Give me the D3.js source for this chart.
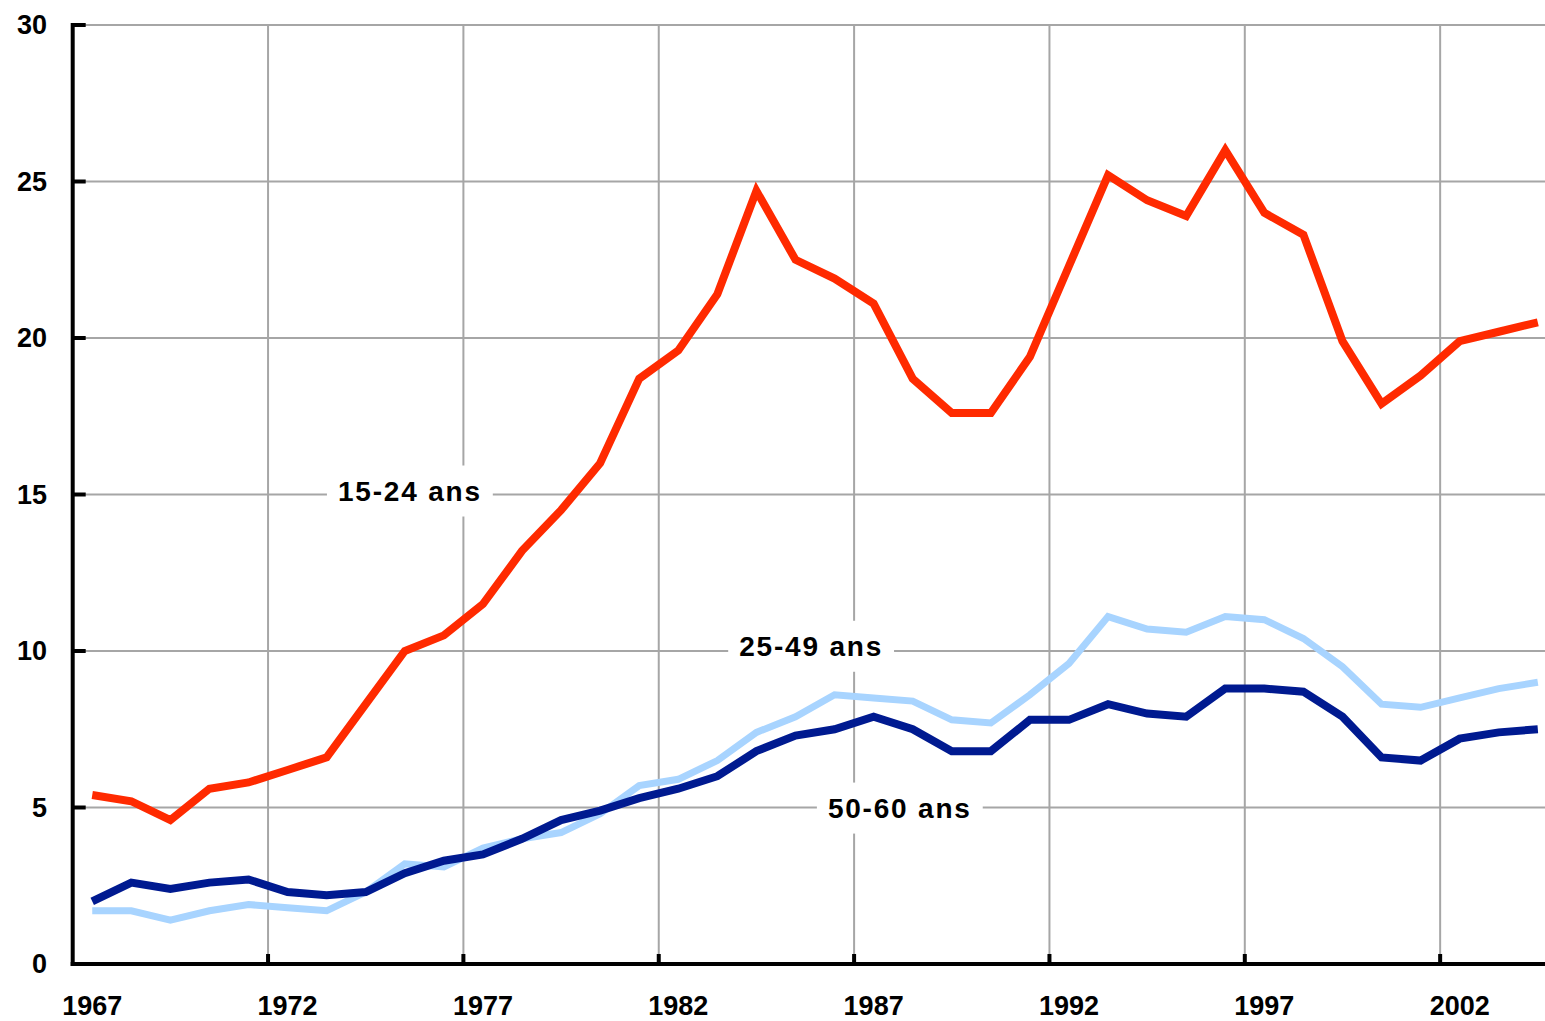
<!DOCTYPE html>
<html lang="en">
<head>
<meta charset="utf-8">
<style>
  body { margin: 0; background: #fff; }
  svg text { font-family: "Liberation Sans", Arial, sans-serif; font-weight: bold; }
</style>
</head>
<body>
<div id="chart"></div>
<script src="https://d3js.org/d3.v7.min.js"></script>
<script>
var years = d3.range(1967, 2005);

var jeunes = [5.4, 5.2, 4.6, 5.6, 5.8, 6.2, 6.6, 8.3, 10.0, 10.5,
  11.5, 13.2, 14.5, 16.0, 18.7, 19.6, 21.4, 24.7, 22.5, 21.9,
  21.1, 18.7, 17.6, 17.6, 19.4, 22.3, 25.2, 24.4, 23.9, 26.0,
  24.0, 23.3, 19.9, 17.9, 18.8, 19.9, 20.2, 20.5];

var adultes = [1.7, 1.7, 1.4, 1.7, 1.9, 1.8, 1.7, 2.3, 3.2, 3.1,
  3.7, 4.0, 4.2, 4.8, 5.7, 5.9, 6.5, 7.4, 7.9, 8.6,
  8.5, 8.4, 7.8, 7.7, 8.6, 9.6, 11.1, 10.7, 10.6, 11.1,
  11.0, 10.4, 9.5, 8.3, 8.2, 8.5, 8.8, 9.0];

var seniors = [2.0, 2.6, 2.4, 2.6, 2.7, 2.3, 2.2, 2.3, 2.9, 3.3,
  3.5, 4.0, 4.6, 4.9, 5.3, 5.6, 6.0, 6.8, 7.3, 7.5,
  7.9, 7.5, 6.8, 6.8, 7.8, 7.8, 8.3, 8.0, 7.9, 8.8,
  8.8, 8.7, 7.9, 6.6, 6.5, 7.2, 7.4, 7.5];

var yTicks = [0, 5, 10, 15, 20, 25, 30];
var xTickYears = [1967, 1972, 1977, 1982, 1987, 1992, 1997, 2002];

// label positions given in data space
var labels = [
  { text: "15-24 ans", year: 1975.13, value: 15.13 },
  { text: "25-49 ans", year: 1985.4, value: 10.17 },
  { text: "50-60 ans", year: 1987.67, value: 5.0 }
];

var width = 1545, height = 1021;
var plotLeft = 72.7, plotTop = 25, plotBottom = 964;
var yearW = 39.07;

var svg = d3.select("#chart").append("svg")
  .attr("width", width).attr("height", height);

// category axis: each year is a band, points at band centres
var x = d3.scaleLinear().domain([1966.5, 1967.5]).range([plotLeft, plotLeft + yearW]);
var y = d3.scaleLinear().domain([0, 30]).range([plotBottom, plotTop]);

var grid = svg.append("g");
grid.selectAll(".hg").data(yTicks.filter(function(d) { return d > 0; }))
  .enter().append("line")
  .attr("x1", plotLeft).attr("x2", width)
  .attr("y1", function(d) { return y(d); }).attr("y2", function(d) { return y(d); })
  .attr("stroke", "#a6a6a6").attr("stroke-width", 2);

grid.selectAll(".vg").data(xTickYears.slice(1))
  .enter().append("line")
  .attr("x1", function(d) { return x(d - 0.5); }).attr("x2", function(d) { return x(d - 0.5); })
  .attr("y1", plotTop).attr("y2", plotBottom)
  .attr("stroke", "#a6a6a6").attr("stroke-width", 2);

// series labels with white boxes over the grid
labels.forEach(function(l) {
  var g = svg.append("g");
  var t = g.append("text")
    .attr("x", x(l.year)).attr("y", y(l.value))
    .attr("text-anchor", "middle").attr("dy", "0.36em")
    .attr("font-size", 28).attr("letter-spacing", 1.8).attr("fill", "#000")
    .text(l.text);
  var b = t.node().getBBox();
  g.insert("rect", "text")
    .attr("x", b.x - 11).attr("y", b.y - 10)
    .attr("width", b.width + 22).attr("height", b.height + 20)
    .attr("fill", "#fff");
});

var line = d3.line()
  .x(function(d, i) { return x(years[i]); })
  .y(function(d) { return y(d); });

var series = [
  { data: adultes, color: "#a8d4ff", w: 7 },
  { data: seniors, color: "#001a90", w: 8 },
  { data: jeunes, color: "#ff2a00", w: 8 }
];

series.forEach(function(s) {
  svg.append("path")
    .datum(s.data)
    .attr("d", line)
    .attr("fill", "none")
    .attr("stroke", s.color)
    .attr("stroke-width", s.w)
    .attr("stroke-linejoin", "miter")
    .attr("stroke-linecap", "butt");
});

// axes
var axes = svg.append("g");
axes.append("line")
  .attr("x1", plotLeft).attr("x2", plotLeft)
  .attr("y1", plotTop - 2).attr("y2", plotBottom + 2)
  .attr("stroke", "#000").attr("stroke-width", 4);
axes.append("line")
  .attr("x1", plotLeft - 2).attr("x2", width)
  .attr("y1", plotBottom).attr("y2", plotBottom)
  .attr("stroke", "#000").attr("stroke-width", 4);

axes.selectAll(".yt").data(yTicks).enter().append("line")
  .attr("x1", plotLeft).attr("x2", plotLeft + 13)
  .attr("y1", function(d) { return y(d); }).attr("y2", function(d) { return y(d); })
  .attr("stroke", "#000").attr("stroke-width", 4);

axes.selectAll(".xt").data(xTickYears.slice(1)).enter().append("line")
  .attr("x1", function(d) { return x(d - 0.5); }).attr("x2", function(d) { return x(d - 0.5); })
  .attr("y1", plotBottom).attr("y2", plotBottom - 10)
  .attr("stroke", "#000").attr("stroke-width", 4);

axes.selectAll(".yl").data(yTicks).enter().append("text")
  .attr("x", 47).attr("y", function(d) { return y(d); })
  .attr("dy", "0.35em").attr("text-anchor", "end")
  .attr("font-size", 27)
  .text(function(d) { return d; });

axes.selectAll(".xl").data(xTickYears).enter().append("text")
  .attr("x", function(d) { return x(d); }).attr("y", 1006)
  .attr("dy", "0.35em").attr("text-anchor", "middle")
  .attr("font-size", 27)
  .text(function(d) { return d; });
</script>
</body>
</html>
